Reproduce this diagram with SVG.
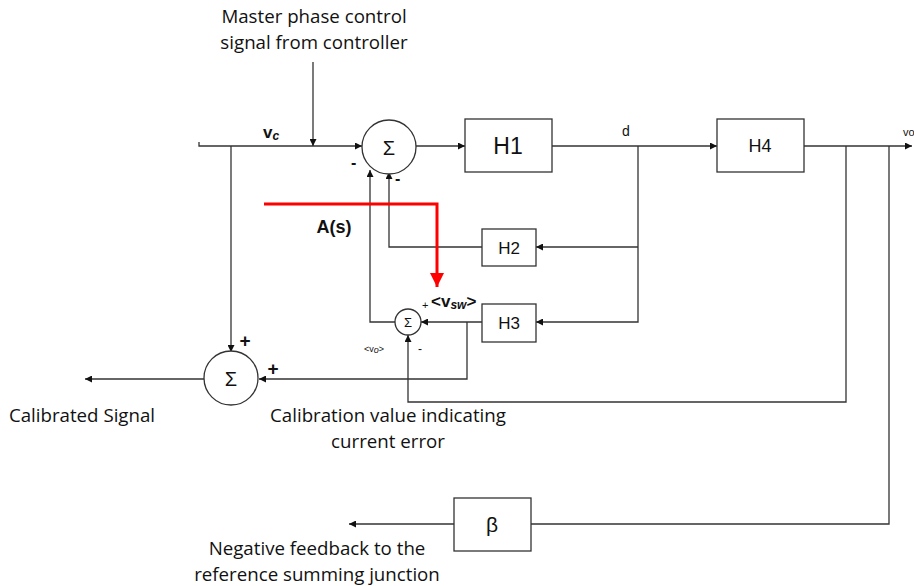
<svg xmlns="http://www.w3.org/2000/svg" width="914" height="586" viewBox="0 0 914 586">
<style>
.ln{fill:none;stroke:#333;stroke-width:1.3}
.bx{fill:#fff;stroke:#333;stroke-width:1.3}
.t{font-family:"Liberation Sans",Arial,sans-serif;fill:#111}
.lbl{font-family:"Open Sans","Liberation Sans",sans-serif;font-size:18.7px}
</style>
<defs>
<marker id="a" viewBox="0 0 10 10" refX="10" refY="5" markerWidth="7" markerHeight="7" markerUnits="userSpaceOnUse" orient="auto"><path d="M0,0L10,5L0,10z" fill="#111"/></marker>
<marker id="r" viewBox="0 0 10 10" refX="10" refY="5" markerWidth="14" markerHeight="14" markerUnits="userSpaceOnUse" orient="auto"><path d="M0,0L10,5L0,10z" fill="#f00"/></marker>
</defs>
<g id="connectors">
<path class="ln" d="M199,142V146H362" marker-end="url(#a)"/>
<path class="ln" d="M313,62V146" marker-end="url(#a)"/>
<path class="ln" d="M416,146H465" marker-end="url(#a)"/>
<path class="ln" d="M552,146H717" marker-end="url(#a)"/>
<path class="ln" d="M804,146H912" marker-end="url(#a)"/>
<path class="ln" d="M638,146V322H536" marker-end="url(#a)"/>
<path class="ln" d="M638,247H536" marker-end="url(#a)"/>
<path class="ln" d="M482,247H389V172" marker-end="url(#a)"/>
<path class="ln" d="M395,322H370V170" marker-end="url(#a)"/>
<path class="ln" d="M482,322H421" marker-end="url(#a)"/>
<path class="ln" d="M467,322V379H259" marker-end="url(#a)"/>
<path class="ln" d="M231,146V352" marker-end="url(#a)"/>
<path class="ln" d="M204,379H85" marker-end="url(#a)"/>
<path class="ln" d="M846,146V402H408V335" marker-end="url(#a)"/>
<path class="ln" d="M889,146V524H531"/>
<path class="ln" d="M454,524H349" marker-end="url(#a)"/>
<path d="M264,204H437V287" fill="none" stroke="#f00" stroke-width="3" marker-end="url(#r)"/>
</g>
<g id="sum1"><circle class="bx" cx="389" cy="147" r="27"/><text class="t" x="389" y="155" font-size="20" text-anchor="middle">Σ</text></g>
<g id="H1"><rect class="bx" x="465" y="119" width="87" height="53"/><text class="t" x="508" y="154" font-size="23" text-anchor="middle">H1</text></g>
<g id="H4"><rect class="bx" x="717" y="119" width="87" height="53"/><text class="t" x="760" y="152" font-size="18" text-anchor="middle">H4</text></g>
<g id="H2"><rect class="bx" x="482" y="229" width="54" height="37"/><text class="t" x="509" y="254" font-size="17" text-anchor="middle">H2</text></g>
<g id="H3"><rect class="bx" x="482" y="304" width="54" height="38"/><text class="t" x="509" y="329" font-size="17" text-anchor="middle">H3</text></g>
<g id="sum2"><circle class="bx" cx="408" cy="322" r="13"/><text class="t" x="408" y="327" font-size="13" text-anchor="middle">Σ</text></g>
<g id="sum3"><circle class="bx" cx="231" cy="378" r="27"/><text class="t" x="231" y="386" font-size="20" text-anchor="middle">Σ</text></g>
<g id="beta"><rect class="bx" x="454" y="498" width="77" height="53"/><text class="t" x="492" y="532" font-size="21" text-anchor="middle">β</text></g>
<g id="labels">
<text class="t lbl" x="314" y="23" text-anchor="middle">Master phase control</text>
<text class="t lbl" x="314" y="49" text-anchor="middle">signal from controller</text>
<text class="t" x="263" y="138" font-size="17" font-weight="bold">v<tspan font-size="12" font-style="italic" dy="2">c</tspan></text>
<text class="t" x="351" y="168" font-size="16" font-weight="bold">-</text>
<text class="t" x="395" y="184" font-size="16" font-weight="bold">-</text>
<text class="t" x="626" y="136" font-size="14" text-anchor="middle">d</text>
<text class="t" x="903" y="136" font-size="11">vo</text>
<text class="t" x="334" y="233" font-size="18" font-weight="bold" text-anchor="middle">A(s)</text>
<text class="t" x="422" y="309" font-size="11">+</text>
<text class="t" x="431" y="307" font-size="17" font-weight="bold">&lt;v<tspan font-size="12" font-style="italic" dy="2">sw</tspan><tspan dy="-2">&gt;</tspan></text>
<text class="t" x="364" y="352" font-size="9">&lt;v<tspan font-style="italic" dy="1">o</tspan><tspan dy="-1">&gt;</tspan></text>
<text class="t" x="418" y="353" font-size="12">-</text>
<text class="t" x="245" y="347" font-size="19" font-weight="bold" text-anchor="middle">+</text>
<text class="t" x="273" y="375" font-size="19" font-weight="bold" text-anchor="middle">+</text>
<text class="t lbl" x="82" y="422" text-anchor="middle">Calibrated Signal</text>
<text class="t lbl" x="388" y="422" text-anchor="middle">Calibration value indicating</text>
<text class="t lbl" x="388" y="448" text-anchor="middle">current error</text>
<text class="t lbl" x="317" y="555" text-anchor="middle">Negative feedback to the</text>
<text class="t lbl" x="317" y="581" text-anchor="middle">reference summing junction</text>
</g>
</svg>
